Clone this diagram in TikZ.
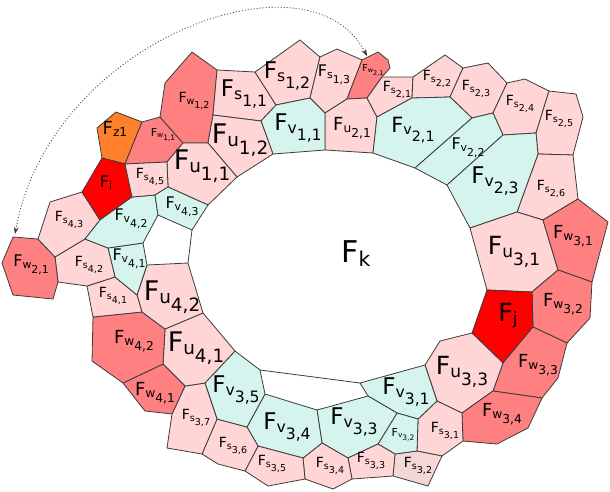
\documentclass[tikz,border=0pt]{standalone}
\usepackage{fontspec}
\setmainfont{DejaVu Sans}
\usepackage{graphicx}
\usetikzlibrary{arrows.meta}
\definecolor{pk}{HTML}{FFD5D5}
\definecolor{pkb}{HTML}{F4D7D7}
\definecolor{tl}{HTML}{D5F4EE}
\definecolor{sm}{HTML}{FF8080}
\definecolor{rd}{HTML}{FF0000}
\definecolor{org}{HTML}{FF7F2A}
\definecolor{edge}{HTML}{3C3C3C}
\newcommand{\flab}[2]{F\raisebox{-0.12em}{\scalebox{0.68}{#1}}\raisebox{-0.42em}{\scalebox{0.68}{#2}}}
\begin{document}
\begin{tikzpicture}[x=1pt,y=-1pt,line join=round,
  face/.style={draw=edge,line width=0.8pt,fill=#1},
  lab/.style={font=\fontsize{#1}{#1}\selectfont,inner sep=0pt}]
\useasboundingbox (0,0) rectangle (610,491);
% upper row
\draw[face=org](116,112)--(142,122)--(125,164)--(102,158)--(97,128)--cycle;
\draw[face=sm](142,122)--(160,117)--(183,143)--(167,162)--(125,164)--cycle;
\draw[face=sm](192,52)--(217,70)--(213,115)--(208,143)--(183,143)--(160,117)--(165,83)--cycle;
\draw[face=pk](217,70)--(255,72)--(276,105)--(261,121)--(213,115)--cycle;
\draw[face=pk](255,72)--(300,40)--(320,57)--(310,98)--(276,105)--cycle;
\draw[face=pk](320,57)--(337,49)--(362,60)--(347,99)--(325,113)--(310,98)--cycle;
\draw[face=sm](362,60)--(378,52)--(388,60)--(390,68)--(382,77)--(367,98)--(347,99)--cycle;
\draw[face=pk](325,113)--(347,99)--(367,98)--(377,117)--(373,153)--(325,150)--cycle;
\draw[face=pk](367,98)--(382,77)--(413,77)--(412,98)--(377,117)--cycle;
\draw[face=tl](261,121)--(276,105)--(310,98)--(325,113)--(325,150)--(273,154)--cycle;
\draw[face=pk](413,77)--(445,55)--(463,68)--(450,97)--(412,98)--cycle;
\draw[face=pk](463,68)--(488,63)--(507,83)--(493,113)--(472,118)--(450,97)--cycle;
\draw[face=pk](507,83)--(525,79)--(549,91)--(536,133)--(503,135)--(493,113)--cycle;
\draw[face=pk](549,91)--(576,94)--(583,117)--(573,155)--(538,154)--(536,133)--cycle;
\draw[face=pk](538,154)--(573,155)--(578,199)--(543,220)--(517,212)--cycle;
\draw[face=tl](377,117)--(412,98)--(450,97)--(472,118)--(415,168)--(373,153)--cycle;
\draw[face=tl](472,118)--(493,113)--(503,135)--(447,185)--(415,168)--cycle;
\draw[face=tl](447,185)--(503,135)--(536,133)--(538,154)--(517,212)--(470,228)--cycle;
\draw[face=pk](213,115)--(261,121)--(273,154)--(237,177)--(208,143)--cycle;
\draw[face=pk](167,162)--(183,143)--(208,143)--(237,177)--(208,205)--(168,187)--cycle;
% right side
\draw[face=pk](470,228)--(517,212)--(543,220)--(558,270)--(532,292)--(487,290)--cycle;
\draw[face=sm](543,220)--(578,199)--(608,222)--(592,282)--(558,270)--cycle;
\draw[face=sm](558,270)--(592,282)--(590,318)--(567,343)--(533,327)--(532,292)--cycle;
\draw[face=rd](487,290)--(532,292)--(533,327)--(503,363)--(472,333)--cycle;
\draw[face=sm](533,327)--(567,343)--(558,378)--(542,398)--(493,391)--(503,363)--cycle;
\draw[face=pk](425,365)--(440,341)--(472,333)--(503,363)--(493,391)--(462,413)--(437,401)--cycle;
\draw[face=sm](462,413)--(493,391)--(542,398)--(528,428)--(497,444)--(463,441)--cycle;
% lower row
\draw[face=pk](418,419)--(437,401)--(462,413)--(463,441)--(442,456)--(417,451)--cycle;
\draw[face=pkb](395,454)--(417,451)--(442,456)--(428,486)--(393,476)--cycle;
\draw[face=tl](360,383)--(425,365)--(437,401)--(418,419)--(397,413)--(368,396)--cycle;
\draw[face=tl](397,413)--(418,419)--(417,451)--(395,454)--(378,444)--cycle;
\draw[face=tl](317,410)--(368,396)--(397,413)--(378,444)--(348,458)--(322,443)--cycle;
\draw[face=pk](378,444)--(395,454)--(393,476)--(352,479)--(348,458)--cycle;
\draw[face=pk](303,458)--(322,443)--(348,458)--(352,479)--(333,489)--(305,479)--cycle;
\draw[face=tl](265,394)--(317,410)--(322,443)--(303,458)--(258,446)--(247,427)--cycle;
\draw[face=pk](258,446)--(303,458)--(305,479)--(268,486)--(245,471)--cycle;
\draw[face=pk](217,419)--(247,427)--(258,446)--(245,471)--(218,464)--(202,454)--cycle;
\draw[face=tl](235,351)--(260,370)--(265,394)--(247,427)--(217,419)--(205,383)--cycle;
\draw[face=pk](172,414)--(185,386)--(205,383)--(217,419)--(202,454)--(167,448)--cycle;
\draw[face=pk](165,329)--(203,313)--(235,351)--(205,383)--(185,386)--(163,364)--cycle;
\draw[face=sm](123,383)--(163,364)--(185,386)--(172,414)--(145,411)--cycle;
\draw[face=sm](93,317)--(142,312)--(165,329)--(163,364)--(123,383)--(92,361)--cycle;
% left side
\draw[face=pk](147,265)--(188,263)--(203,313)--(165,329)--(142,312)--(137,295)--cycle;
\draw[face=pk](87,286)--(115,277)--(137,295)--(142,312)--(93,317)--cycle;
\draw[face=tl](108,248)--(143,243)--(147,265)--(137,295)--(115,277)--cycle;
\draw[face=pk](55,257)--(85,239)--(108,248)--(115,277)--(87,286)--(58,282)--cycle;
\draw[face=sm](13,237)--(38,239)--(55,257)--(58,282)--(53,299)--(13,295)--(2,263)--cycle;
\draw[face=pk](38,239)--(50,202)--(82,192)--(100,220)--(85,239)--(55,257)--cycle;
\draw[face=rd](82,192)--(102,158)--(125,164)--(132,197)--(100,220)--cycle;
\draw[face=tl](100,220)--(132,197)--(155,195)--(158,215)--(143,243)--(108,248)--(85,239)--cycle;
\draw[face=pk](125,164)--(167,162)--(168,187)--(155,195)--(132,197)--cycle;
\draw[face=tl](155,195)--(168,187)--(208,205)--(192,230)--(158,215)--cycle;
% inner boundary pieces
\draw[draw=edge,line width=0.8pt](192,230)--(188,263);
\draw[draw=edge,line width=0.8pt](260,370)--(360,383);
% labels
\node[lab=30] (k) at (356,258) {\flab{k}{}};
\node[lab=18] (z1) at (115,132) {\flab{z1}{}};
\node[lab=11] (w11) at (163,135) {\flab{w}{1,1}};
\node[lab=14] (w12) at (194,101) {\flab{w}{1,2}};
\node[lab=23] (s11) at (244,94) {\flab{s}{1,1}};
\node[lab=23] (s12) at (287,76) {\flab{s}{1,2}};
\node[lab=16] (s13) at (334,75) {\flab{s}{1,3}};
\node[lab=9.5] (w21a) at (373,70) {\flab{w}{2,1}};
\node[lab=14] (s21) at (397,90) {\flab{s}{2,1}};
\node[lab=14] (s22) at (437,79) {\flab{s}{2,2}};
\node[lab=14] (s23) at (476,89) {\flab{s}{2,3}};
\node[lab=14] (s24) at (520,104) {\flab{s}{2,4}};
\node[lab=14] (s25) at (559,119) {\flab{s}{2,5}};
\node[lab=14] (s26) at (551,189) {\flab{s}{2,6}};
\node[lab=27] (u12) at (240,140) {\flab{u}{1,2}};
\node[lab=27] (u11) at (202,166) {\flab{u}{1,1}};
\node[lab=23] (v11) at (298,128) {\flab{v}{1,1}};
\node[lab=18] (u21) at (352,128) {\flab{u}{2,1}};
\node[lab=21] (v21) at (413,130) {\flab{v}{2,1}};
\node[lab=16] (v22) at (468,148) {\flab{v}{2,2}};
\node[lab=23] (v23) at (495,181) {\flab{v}{2,3}};
\node[lab=25] (u31) at (514,252) {\flab{u}{3,1}};
\node[lab=18] (w31) at (573,236) {\flab{w}{3,1}};
\node[lab=18] (w32) at (563,304) {\flab{w}{3,2}};
\node[lab=25] (j) at (508,318) {\flab{j}{}};
\node[lab=18] (w33) at (538,365) {\flab{w}{3,3}};
\node[lab=25] (u33) at (462,372) {\flab{u}{3,3}};
\node[lab=18] (w34) at (502,414) {\flab{w}{3,4}};
\node[lab=14] (s31) at (445,431) {\flab{s}{3,1}};
\node[lab=14] (s32) at (418,466) {\flab{s}{3,2}};
\node[lab=23] (v31) at (406,392) {\flab{v}{3,1}};
\node[lab=11] (v32) at (403,435) {\flab{v}{3,2}};
\node[lab=23] (v33) at (354,422) {\flab{v}{3,3}};
\node[lab=14] (s33) at (371,461) {\flab{s}{3,3}};
\node[lab=14] (s34) at (330,466) {\flab{s}{3,4}};
\node[lab=23] (v34) at (287,427) {\flab{v}{3,4}};
\node[lab=14] (s35) at (272,464) {\flab{s}{3,5}};
\node[lab=14] (s36) at (233,446) {\flab{s}{3,6}};
\node[lab=23] (v35) at (236,390) {\flab{v}{3,5}};
\node[lab=14] (s37) at (196,418) {\flab{s}{3,7}};
\node[lab=27] (u41) at (196,348) {\flab{u}{4,1}};
\node[lab=18] (w41) at (155,393) {\flab{w}{4,1}};
\node[lab=18] (w42) at (134,341) {\flab{w}{4,2}};
\node[lab=27] (u42) at (172,297) {\flab{u}{4,2}};
\node[lab=14] (s41) at (113,296) {\flab{s}{4,1}};
\node[lab=16] (v41) at (129,259) {\flab{v}{4,1}};
\node[lab=14] (s42) at (89,265) {\flab{s}{4,2}};
\node[lab=16] (w21b) at (31,265) {\flab{w}{2,1}};
\node[lab=14] (s43) at (69,220) {\flab{s}{4,3}};
\node[lab=16] (i) at (106,185) {\flab{i}{}};
\node[lab=16] (v42) at (131,219) {\flab{v}{4,2}};
\node[lab=14] (s45) at (150,177) {\flab{s}{4,5}};
\node[lab=16] (v43) at (182,207) {\flab{v}{4,3}};
% dotted link between the two w_{2,1}
\coordinate (wtop) at (367,56);
\coordinate (wleft) at (15,234);
\draw[edge,line width=0.8pt,dash pattern=on 1pt off 2pt,{Stealth[length=7pt,width=5pt]}-{Stealth[length=7pt,width=5pt]}](wleft) .. controls (50,40) and (310,-55) .. (wtop);
\end{tikzpicture}
\end{document}
